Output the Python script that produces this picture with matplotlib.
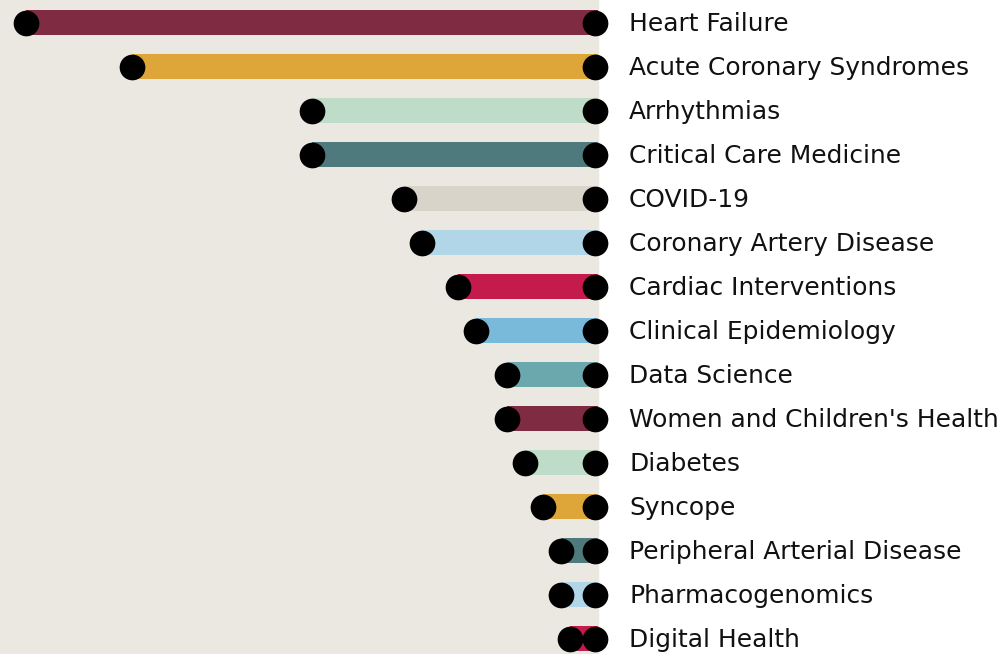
import numpy as np
import matplotlib.pyplot as plt
from matplotlib.patches import Rectangle

# data (units)
topics = ["Heart Failure", "Acute Coronary Syndromes", "Arrhythmias",
          "Critical Care Medicine", "COVID-19", "Coronary Artery Disease",
          "Cardiac Interventions", "Clinical Epidemiology", "Data Science",
          "Women and Children's Health", "Diabetes", "Syncope",
          "Peripheral Arterial Disease", "Pharmacogenomics", "Digital Health"]
values = [31.6, 25.7, 15.7, 15.7, 10.6, 9.6, 7.6, 6.6, 4.9, 4.9, 3.9, 2.9, 1.9, 1.9, 1.4]
colors = ["#7f2b41", "#dea638", "#bfdcc8", "#4e7a7e", "#d8d4c9", "#b1d6e8",
          "#c41b4c", "#79b9da", "#6aa8ad", "#7f2b41", "#bfdcc8", "#dea638",
          "#4e7a7e", "#b1d6e8", "#c41b4c"]

W, H = 1006, 654
px = 18.0  # px per unit
x0 = 595.0  # px of zero

fig = plt.figure(figsize=(W/100, H/100), dpi=100)
ax = fig.add_axes([0, 0, 1, 1])
ax.set_xlim(-x0/px, (W - x0)/px)
ax.set_ylim((H - 22.5)/44, -22.5/44)
ax.axis("off")

# beige panel behind the bars
ax.add_patch(Rectangle((-x0/px, -5), 598/px, 30, color="#ebe8e1", zorder=0))

y = np.arange(len(topics))
v = -np.array(values)
ax.barh(y, 3/px - v, left=v, height=25/44, color=colors, zorder=1)
ax.plot(v, y, "o", color="black", markersize=18.5, markeredgewidth=0, zorder=2)
ax.plot(np.zeros(len(y)), y, "o", color="black", markersize=18.5, markeredgewidth=0, zorder=2)

for i, t in enumerate(topics):
    ax.text((629 - x0)/px, i + 0.03, t, va="center", ha="left", fontsize=17.9,
            family="DejaVu Sans", color="#111111")

fig.savefig("out.png", dpi=100)
